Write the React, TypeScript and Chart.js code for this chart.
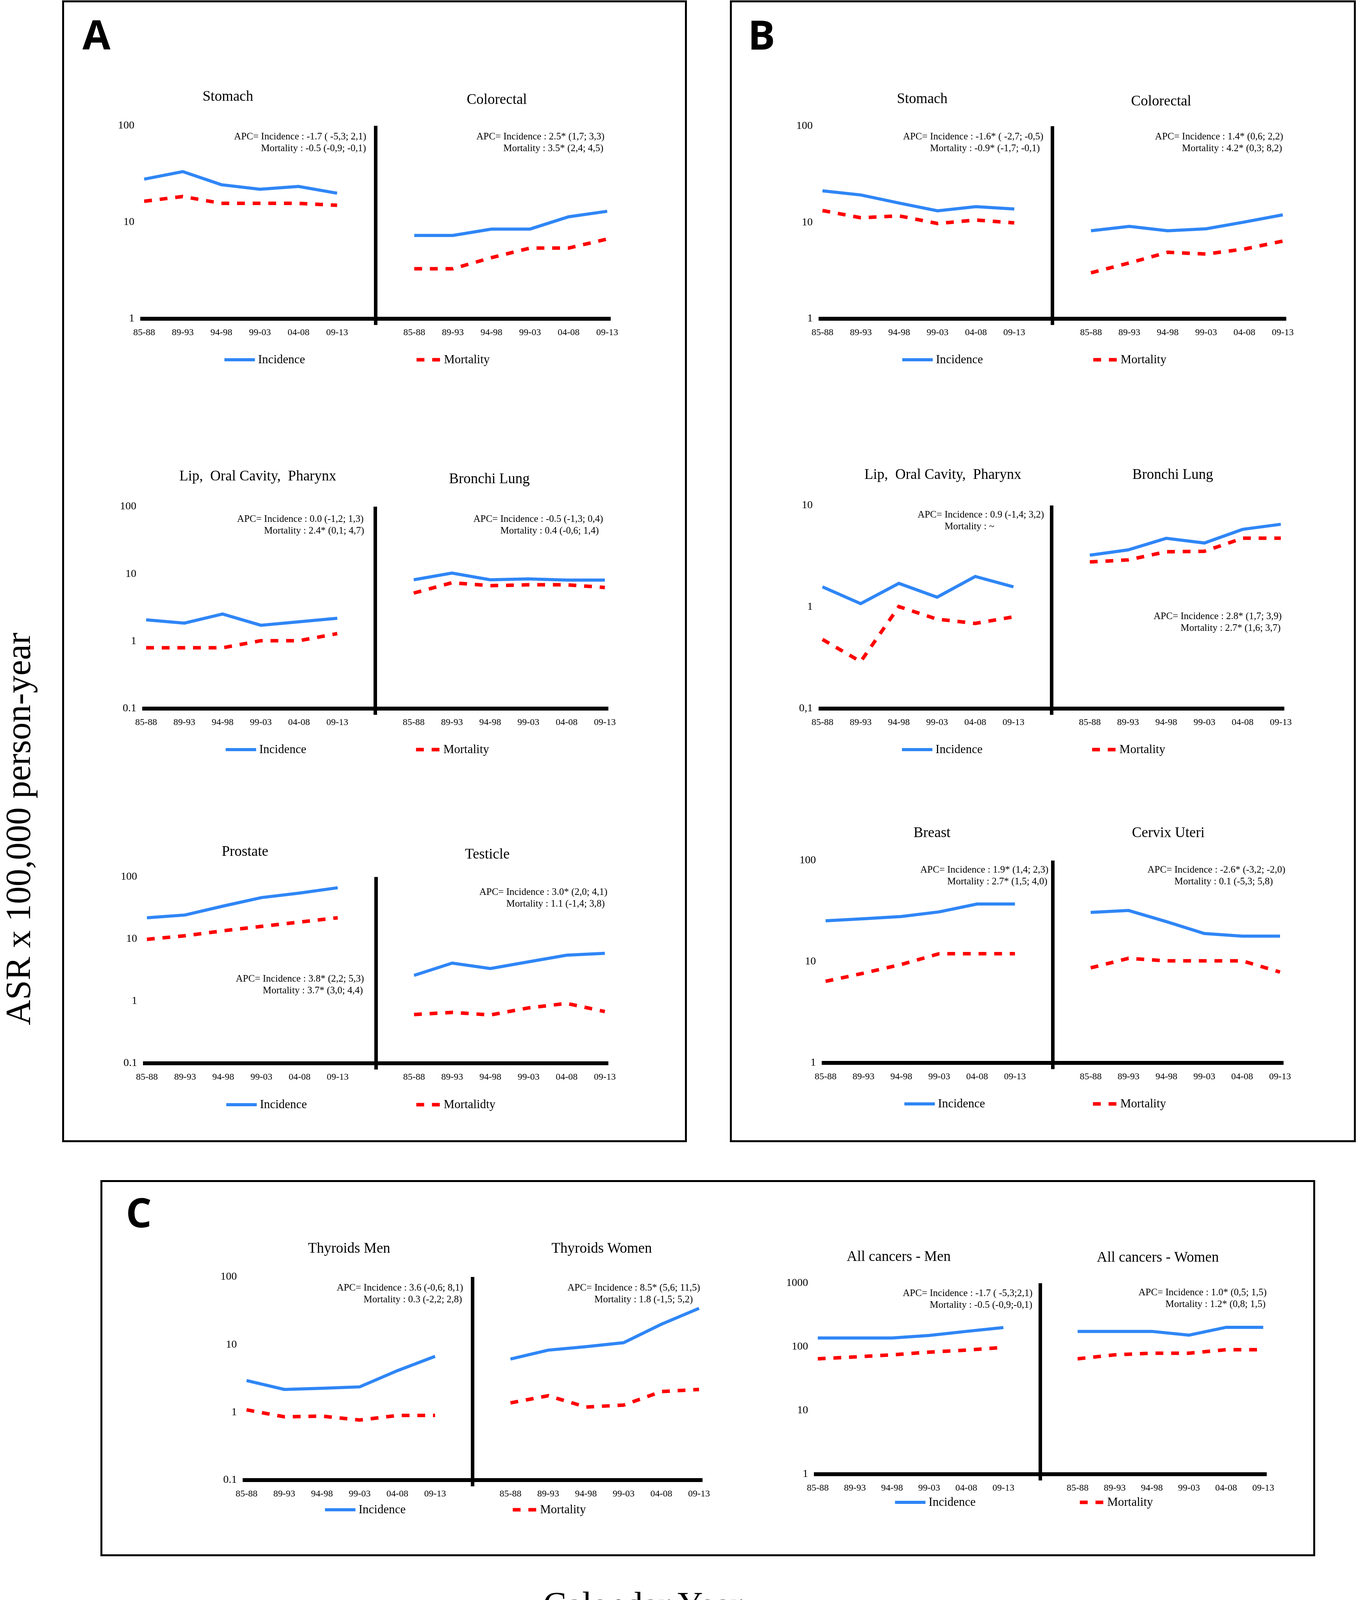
import React, { useEffect, useRef } from 'react';
import { Chart, registerables } from 'chart.js';

Chart.register(...registerables);

// ---------- DATA ----------
const PERIODS = ['85-88', '89-93', '94-98', '99-03', '04-08', '09-13'];
const X_LABELS = [...PERIODS, '', ...PERIODS];

// Panel A
const stomachA_incidence = [28, 33.5, 24.5, 22, 23.5, 20];
const stomachA_mortality = [16.5, 18.5, 15.7, 15.7, 15.7, 15];
const colorectalA_incidence = [7.3, 7.3, 8.5, 8.5, 11.4, 13];
const colorectalA_mortality = [3.3, 3.3, 4.3, 5.4, 5.4, 6.7];
const lipA_incidence = [2.08, 1.86, 2.54, 1.73, 1.95, 2.2];
const lipA_mortality = [0.8, 0.8, 0.8, 1.02, 1.02, 1.3];
const lungA_incidence = [8.2, 10.3, 8.2, 8.45, 8.1, 8.1];
const lungA_mortality = [5.2, 7.4, 6.7, 6.9, 6.9, 6.3];
const prostate_incidence = [22, 24.4, 34, 46.5, 55, 67];
const prostate_mortality = [9.9, 11.3, 13.6, 16, 18.8, 22];
const testicle_incidence = [2.6, 4.1, 3.35, 4.3, 5.5, 5.9];
const testicle_mortality = [0.61, 0.66, 0.6, 0.78, 0.92, 0.68];

// Panel B
const stomachB_incidence = [21.3, 19.3, 15.9, 13.2, 14.6, 13.8];
const stomachB_mortality = [13.3, 11.2, 11.7, 9.75, 10.6, 9.9];
const colorectalB_incidence = [8.2, 9.1, 8.2, 8.6, 10.1, 12];
const colorectalB_mortality = [3.0, 3.8, 4.9, 4.7, 5.3, 6.4];
const lipB_incidence = [1.58, 1.08, 1.71, 1.25, 2.0, 1.58];
const lipB_mortality = [0.48, 0.29, 1.01, 0.76, 0.69, 0.8];
const lungB_incidence = [3.24, 3.65, 4.75, 4.27, 5.82, 6.53];
const lungB_mortality = [2.78, 2.91, 3.5, 3.54, 4.76, 4.76];
const breast_incidence = [25.4, 26.6, 28, 31.1, 37.2, 37.2];
const breast_mortality = [6.4, 7.7, 9.4, 12, 12, 12];
const cervix_incidence = [30.7, 32.1, 24.9, 19, 17.9, 17.9];
const cervix_mortality = [8.7, 10.8, 10.2, 10.2, 10.2, 7.9];

// Panel C
const thyroidMen_incidence = [2.95, 2.18, 2.27, 2.38, 4.13, 6.72];
const thyroidMen_mortality = [1.09, 0.86, 0.88, 0.77, 0.9, 0.9];
const thyroidWomen_incidence = [6.13, 8.3, 9.35, 10.7, 20, 34.4];
const thyroidWomen_mortality = [1.38, 1.76, 1.2, 1.28, 2.03, 2.18];
const allMen_incidence = [138, 138, 138, 151, 175, 201];
const allMen_mortality = [65, 69.6, 75, 82.6, 89, 98];
const allWomen_incidence = [175, 175, 175, 153, 203, 203];
const allWomen_mortality = [65, 75, 79.6, 79.6, 90.3, 90.3];

// Y tick sets
const Y_1_100 = [1, 10, 100];
const Y_1_100_LABELS = ['1', '10', '100'];
const Y_01_100 = [0.1, 1, 10, 100];
const Y_01_100_LABELS = ['0.1', '1', '10', '100'];
const Y_01_10 = [0.1, 1, 10];
const Y_01_10_LABELS = ['0,1', '1', '10'];
const Y_1_1000 = [1, 10, 100, 1000];
const Y_1_1000_LABELS = ['1', '10', '100', '1000'];

// ---------- STYLE ----------
const BLUE = '#2f86f6';
const RED = '#ff0000';
const FONT = '"Liberation Serif", "Times New Roman", serif';
const ML = 150;
const MR = 60;
const MT = 140;
const MB = 150;

type Half = { title: string; inc: number[]; mort: number[]; apc: [string, string] };
type Pair = {
  x0: number; x1: number; top: number; bottom: number;
  yTicks: number[]; yLabels: string[];
  left: Half; right: Half;
  titlePos: [number, number][];
  apcPos: [number, number][];
  legendDy: number;
  mortLabel?: string;
};

const PAIRS: Pair[] = [
  {
    x0: 369, x1: 1554, top: 322, bottom: 816, yTicks: Y_1_100, yLabels: Y_1_100_LABELS,
    left: { title: 'Stomach', inc: stomachA_incidence, mort: stomachA_mortality, apc: ['APC= Incidence : -1.7 ( -5,3; 2,1)', 'Mortality : -0.5 (-0,9; -0,1)'] },
    right: { title: 'Colorectal', inc: colorectalA_incidence, mort: colorectalA_mortality, apc: ['APC= Incidence : 2.5* (1,7; 3,3)', 'Mortality : 3.5* (2,4; 4,5)'] },
    titlePos: [[2.17, -74], [9.14, -66]], apcPos: [[2.33, 28], [8.61, 28]], legendDy: 105,
  },
  {
    x0: 374, x1: 1548, top: 1297, bottom: 1814, yTicks: Y_01_100, yLabels: Y_01_100_LABELS,
    left: { title: 'Lip,  Oral Cavity,  Pharynx', inc: lipA_incidence, mort: lipA_mortality, apc: ['APC= Incidence : 0.0 (-1,2; 1,3)', 'Mortality : 2.4* (0,1; 4,7)'] },
    right: { title: 'Bronchi Lung', inc: lungA_incidence, mort: lungA_mortality, apc: ['APC= Incidence : -0.5 (-1,3; 0,4)', 'Mortality : 0.4 (-0,6; 1,4)'] },
    titlePos: [[2.92, -77], [8.98, -70]], apcPos: [[2.38, 32], [8.56, 32]], legendDy: 105,
  },
  {
    x0: 376, x1: 1548, top: 2245, bottom: 2722, yTicks: Y_01_100, yLabels: Y_01_100_LABELS,
    left: { title: 'Prostate', inc: prostate_incidence, mort: prostate_mortality, apc: ['APC= Incidence : 3.8* (2,2; 5,3)', 'Mortality : 3.7* (3,0; 4,4)'] },
    right: { title: 'Testicle', inc: testicle_incidence, mort: testicle_mortality, apc: ['APC= Incidence : 3.0* (2,0; 4,1)', 'Mortality : 1.1 (-1,4; 3,8)'] },
    titlePos: [[2.57, -64], [8.92, -57]], apcPos: [[2.33, 261], [8.71, 39]], legendDy: 106, mortLabel: 'Mortalidty',
  },
  {
    x0: 2105, x1: 3283, top: 323, bottom: 816, yTicks: Y_1_100, yLabels: Y_1_100_LABELS,
    left: { title: 'Stomach', inc: stomachB_incidence, mort: stomachB_mortality, apc: ['APC= Incidence : -1.6* ( -2,7; -0,5)', 'Mortality : -0.9* (-1,7; -0,1)'] },
    right: { title: 'Colorectal', inc: colorectalB_incidence, mort: colorectalB_mortality, apc: ['APC= Incidence : 1.4* (0,6; 2,2)', 'Mortality : 4.2* (0,3; 8,2)'] },
    titlePos: [[2.6, -69], [8.83, -63]], apcPos: [[2.1, 27], [8.67, 27]], legendDy: 105,
  },
  {
    x0: 2105, x1: 3278, top: 1294, bottom: 1814, yTicks: Y_01_10, yLabels: Y_01_10_LABELS,
    left: { title: 'Lip,  Oral Cavity,  Pharynx', inc: lipB_incidence, mort: lipB_mortality, apc: ['APC= Incidence : 0.9 (-1,4; 3,2)', 'Mortality : ~'] },
    right: { title: 'Bronchi Lung', inc: lungB_incidence, mort: lungB_mortality, apc: ['APC= Incidence : 2.8* (1,7; 3,9)', 'Mortality : 2.7* (1,6; 3,7)'] },
    titlePos: [[3.15, -78], [9.17, -78]], apcPos: [[2.49, 24], [8.67, 284]], legendDy: 105,
  },
  {
    x0: 2113, x1: 3276, top: 2203, bottom: 2721, yTicks: Y_1_100, yLabels: Y_1_100_LABELS,
    left: { title: 'Breast', inc: breast_incidence, mort: breast_mortality, apc: ['APC= Incidence : 1.9* (1,4; 2,3)', 'Mortality : 2.7* (1,5; 4,0)'] },
    right: { title: 'Cervix Uteri', inc: cervix_incidence, mort: cervix_mortality, apc: ['APC= Incidence : -2.6* (-3,2; -2,0)', 'Mortality : 0.1 (-5,3; 5,8)'] },
    titlePos: [[2.81, -70], [9.05, -70]], apcPos: [[2.5, 24], [8.5, 24]], legendDy: 105,
  },
  {
    x0: 631, x1: 1789, top: 3269, bottom: 3789, yTicks: Y_01_100, yLabels: Y_01_100_LABELS,
    left: { title: 'Thyroids Men', inc: thyroidMen_incidence, mort: thyroidMen_mortality, apc: ['APC= Incidence : 3.6 (-0,6; 8,1)', 'Mortality : 0.3 (-2,2; 2,8)'] },
    right: { title: 'Thyroids Women', inc: thyroidWomen_incidence, mort: thyroidWomen_mortality, apc: ['APC= Incidence : 8.5* (5,6; 11,5)', 'Mortality : 1.8 (-1,5; 5,2)'] },
    titlePos: [[2.72, -72], [9.42, -72]], apcPos: [[2.39, 28], [8.51, 28]], legendDy: 76,
  },
  {
    x0: 2093, x1: 3233, top: 3285, bottom: 3774, yTicks: Y_1_1000, yLabels: Y_1_1000_LABELS,
    left: { title: 'All cancers - Men', inc: allMen_incidence, mort: allMen_mortality, apc: ['APC= Incidence : -1.7 ( -5,3;2,1)', 'Mortality : -0.5 (-0,9;-0,1)'] },
    right: { title: 'All cancers - Women', inc: allWomen_incidence, mort: allWomen_mortality, apc: ['APC= Incidence : 1.0* (0,5; 1,5)', 'Mortality : 1.2* (0,8; 1,5)'] },
    titlePos: [[2.18, -67], [9.16, -65]], apcPos: [[2.29, 26], [8.64, 24]], legendDy: 72,
  },
];

const annotPlugin = {
  id: 'annot',
  afterDraw(chart: any, _args: any, opts: any) {
    const { ctx, chartArea } = chart;
    const xs = chart.scales.x;
    ctx.save();
    ctx.fillStyle = '#000';
    ctx.textBaseline = 'middle';
    ctx.textAlign = 'center';
    ctx.font = `37px ${FONT}`;
    opts.titles.forEach((t: any) => ctx.fillText(t.text, xs.getPixelForValue(t.x), chartArea.top + t.dy));
    ctx.font = `25px ${FONT}`;
    ctx.textAlign = 'left';
    const indent = ctx.measureText('APC= ').width;
    opts.apc.forEach((a: any) => {
      const px = xs.getPixelForValue(a.x);
      const py = chartArea.top + a.dy;
      ctx.fillText(a.lines[0], px, py);
      ctx.fillText(a.lines[1], px + indent, py + 30);
    });
    const ly = chartArea.bottom + opts.legendDy;
    ctx.font = `31px ${FONT}`;
    const legendAt = [2.08, 7.06];
    const legendLen = [78, 62];
    chart.data.datasets.forEach((ds: any, i: number) => {
      const x0 = xs.getPixelForValue(legendAt[i]);
      ctx.strokeStyle = ds.borderColor;
      ctx.lineWidth = ds.borderWidth;
      ctx.setLineDash(ds.borderDash || []);
      ctx.beginPath();
      ctx.moveTo(x0, ly);
      ctx.lineTo(x0 + legendLen[i], ly);
      ctx.stroke();
      ctx.setLineDash([]);
      ctx.fillText(ds.label, x0 + legendLen[i] + 8, ly + 1);
    });
    ctx.restore();
  },
};

function PairChart({ p }: { p: Pair }) {
  const ref = useRef<HTMLCanvasElement | null>(null);
  const sp = (p.x1 - p.x0) / 12;
  const areaL = p.x0 - 0.05 * sp;
  const areaR = p.x1 + 0.05 * sp;
  const left = Math.round(areaL - ML);
  const top = p.top - MT;
  const width = Math.round(areaR + MR) - left;
  const height = p.bottom + MB - top;
  const padL = areaL - ML - left;

  useEffect(() => {
    if (!ref.current) return;
    const inc = [...p.left.inc, null, ...p.right.inc];
    const mort = [...p.left.mort, null, ...p.right.mort];
    const chart = new Chart(ref.current, {
      type: 'line',
      data: {
        datasets: [
          {
            label: 'Incidence',
            data: inc.map((v, i) => ({ x: i, y: v })) as any,
            borderColor: BLUE, backgroundColor: BLUE, borderWidth: 8,
            pointRadius: 0, tension: 0, spanGaps: false,
          },
          {
            label: p.mortLabel || 'Mortality',
            data: mort.map((v, i) => ({ x: i, y: v })) as any,
            borderColor: RED, backgroundColor: RED, borderWidth: 9, borderDash: [20, 20],
            pointRadius: 0, tension: 0, spanGaps: false,
          },
        ],
      },
      options: {
        responsive: false, maintainAspectRatio: false, animation: false, devicePixelRatio: 1,
        events: [],
        layout: { padding: { left: padL, top: MT, right: MR - (areaR + MR - Math.round(areaR + MR)), bottom: 0 } },
        plugins: {
          legend: { display: false }, tooltip: { enabled: false },
          annot: {
            titles: [
              { text: p.left.title, x: p.titlePos[0][0], dy: p.titlePos[0][1] },
              { text: p.right.title, x: p.titlePos[1][0], dy: p.titlePos[1][1] },
            ],
            apc: [
              { lines: p.left.apc, x: p.apcPos[0][0], dy: p.apcPos[0][1] },
              { lines: p.right.apc, x: p.apcPos[1][0], dy: p.apcPos[1][1] },
            ],
            legendDy: p.legendDy,
          },
        } as any,
        scales: {
          x: {
            type: 'linear', min: -0.05, max: 12.05,
            afterBuildTicks: (ax: any) => { ax.ticks = X_LABELS.map((_, i) => ({ value: i })); },
            afterFit: (ax: any) => { ax.height = MB; },
            ticks: {
              autoSkip: false, maxRotation: 0, minRotation: 0, color: '#000', padding: 5,
              font: { family: FONT, size: 24 },
              callback: (v: any) => X_LABELS[Math.round(Number(v))] ?? '',
            },
            grid: {
              color: (c: any) => (c.index === 6 ? '#000' : 'rgba(0,0,0,0)'),
              lineWidth: 9, tickLength: 16, drawOnChartArea: true, drawTicks: true,
            },
            border: { display: true, color: '#000', width: 10 },
          },
          y: {
            type: 'logarithmic', min: p.yTicks[0], max: p.yTicks[p.yTicks.length - 1],
            afterBuildTicks: (ax: any) => { ax.ticks = p.yTicks.map((v) => ({ value: v })); },
            afterFit: (ax: any) => { ax.width = ML; },
            ticks: {
              color: '#000', padding: 20, font: { family: FONT, size: 28 },
              callback: (_v: any, i: number) => p.yLabels[i],
            },
            grid: { display: false, drawTicks: false },
            border: { display: false },
          },
        } as any,
      },
      plugins: [annotPlugin as any],
    });
    return () => chart.destroy();
  }, []);

  return (
    <canvas
      ref={ref}
      width={width}
      height={height}
      style={{ position: 'absolute', left, top, width, height }}
    />
  );
}

function Box({ l, t, r, b }: { l: number; t: number; r: number; b: number }) {
  return (
    <div style={{ position: 'absolute', left: l, top: t, width: r - l, height: b - t, border: '5px solid #000', boxSizing: 'border-box' }} />
  );
}

function Letter({ ch, x, y }: { ch: string; x: number; y: number }) {
  return (
    <div style={{ position: 'absolute', left: x, top: y, font: `700 104px "Open Sans", "Liberation Sans", sans-serif`, lineHeight: 1, color: '#000' }}>{ch}</div>
  );
}

export default function App() {
  useEffect(() => {
    document.body.style.margin = '0';
    document.body.style.overflow = 'hidden';
    document.documentElement.style.overflow = 'hidden';
  }, []);
  return (
    <div style={{ position: 'relative', width: 3473, height: 4178, background: '#fff', overflow: 'hidden' }}>
      <Box l={159} t={1} r={1758} b={2924} />
      <Box l={1868} t={1} r={3470} b={2924} />
      <Box l={257} t={3021} r={3366} b={3984} />
      <Letter ch="A" x={211} y={35} />
      <Letter ch="B" x={1914} y={35} />
      <Letter ch="C" x={322} y={3050} />
      {PAIRS.map((p, i) => <PairChart key={i} p={p} />)}
      <div style={{ position: 'absolute', left: 47, top: 2122, transform: 'translate(-50%,-50%) rotate(-90deg)', font: `90px ${FONT}`, whiteSpace: 'nowrap', lineHeight: 1 }}>ASR x 100,000 person-year</div>
      <div style={{ position: 'absolute', left: 1645, top: 4108, transform: 'translate(-50%,-50%)', font: `90px ${FONT}`, whiteSpace: 'nowrap', lineHeight: 1 }}>Calendar Year</div>
    </div>
  );
}
